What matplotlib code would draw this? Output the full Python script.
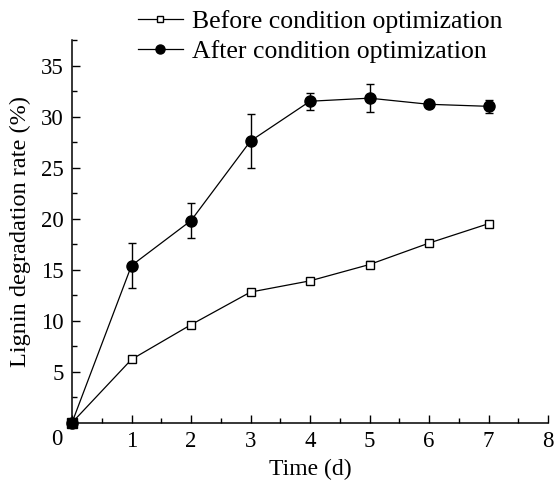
import matplotlib
matplotlib.use("Agg")
import matplotlib.pyplot as plt
from matplotlib.ticker import MultipleLocator
from matplotlib.lines import Line2D

days = [0, 1, 2, 3, 4, 5, 6, 7]
before = [0, 6.2, 9.6, 12.8, 13.9, 15.5, 17.6, 19.5]
before_err = [0, 0.3, 0.2, 0.25, 0.3, 0.3, 0.25, 0.25]
after = [0, 15.4, 19.8, 27.6, 31.5, 31.8, 31.2, 31.0]
after_err = [0, 2.2, 1.7, 2.6, 0.85, 1.35, 0.2, 0.65]
labels = ["Before condition optimization", "After condition optimization"]
xticks = [0, 1, 2, 3, 4, 5, 6, 7, 8]
yticks = [5, 10, 15, 20, 25, 30, 35]

plt.rcParams['font.family'] = ['Liberation Serif', 'DejaVu Serif']

fig = plt.figure(figsize=(5.54, 4.87), dpi=100)
ax = fig.add_axes([72/554, 1 - 422.7/487, (548 - 72)/554, (422.7 - 40)/487])

ax.errorbar(days, before, yerr=before_err, color='black', lw=0.9,
            marker='s', ms=6, mfc='white', mec='black', mew=1.0,
            ecolor='black', elinewidth=0.9, capsize=3, capthick=0.9,
            clip_on=False, zorder=3)
ax.errorbar(days, after, yerr=after_err, color='black', lw=0.9,
            marker='o', ms=8, mfc='black', mec='black',
            ecolor='black', elinewidth=1.0, capsize=3, capthick=1.0,
            clip_on=False, zorder=4)
# origin marker shown as filled square
ax.plot(days[:1], before[:1], marker='s', ms=7, color='black', ls='none',
        clip_on=False, zorder=5)

ax.set_xlim(0, 8)
ax.set_ylim(0, 37.5)
ax.set_xticks(xticks)
ax.set_xticklabels([''] + [str(t) for t in xticks[1:]])
ax.set_yticks(yticks)
ax.xaxis.set_minor_locator(MultipleLocator(0.5))
ax.yaxis.set_minor_locator(MultipleLocator(2.5))
ax.tick_params(which='both', direction='in', labelsize=16.5, width=1.0)
ax.tick_params(which='major', length=6, pad=6)
ax.tick_params(which='minor', length=3.5)
ax.tick_params(axis='x', which='major', pad=6)
for s in ['top', 'right']:
    ax.spines[s].set_visible(False)
for s in ['left', 'bottom']:
    ax.spines[s].set_linewidth(1.1)

ax.annotate('0', xy=(0, 0), xycoords=('data', 'axes fraction'),
            xytext=(-11, -4.5), textcoords='offset points',
            ha='center', va='top', fontsize=16.5)

ax.set_xlabel('Time (d)', fontsize=17, labelpad=5)
ax.set_ylabel('Lignin degradation rate (%)', fontsize=17.5, labelpad=7)

h1 = Line2D([], [], color='black', lw=0.9, marker='s', ms=5, mfc='white', mec='black')
h2 = Line2D([], [], color='black', lw=0.9, marker='o', ms=6.5, mfc='black', mec='black')
fig.legend([h1, h2], labels, loc='upper left', bbox_to_anchor=(135/554, 1 - 7/487),
           frameon=False, fontsize=18.5, handlelength=1.75, handletextpad=0.35,
           labelspacing=0.3, borderaxespad=0, borderpad=0.1)

fig.savefig('out.png', dpi=100)
